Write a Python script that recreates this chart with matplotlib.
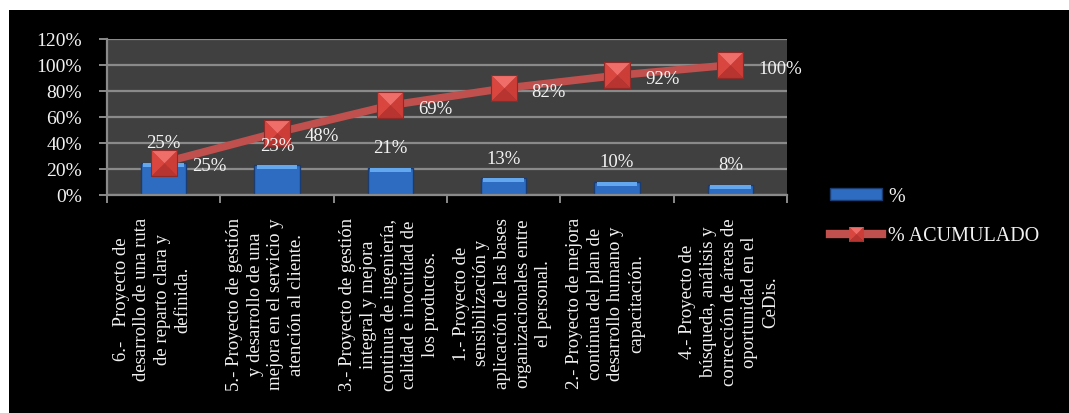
import matplotlib
matplotlib.use("Agg")
import matplotlib.pyplot as plt
import numpy as np
from matplotlib.path import Path
from matplotlib.patches import Rectangle, Patch
from matplotlib.lines import Line2D
from matplotlib.legend_handler import HandlerTuple
import matplotlib.transforms as mtransforms
from matplotlib.ticker import FuncFormatter, FixedLocator

# --- data ---
categories = [
    "6.-   Proyecto de\ndesarrollo de una ruta\nde reparto clara y\ndefinida.",
    "5.- Proyecto de gestión\ny desarrollo de una\nmejora en el servicio y\natención al cliente.",
    "3.- Proyecto de gestión\nintegral y mejora\ncontinua de ingeniería,\ncalidad e inocuidad de\nlos productos.",
    "1.- Proyecto de\nsensibilización y\naplicación de las bases\norganizacionales entre\nel personal.",
    "2.- Proyecto de mejora\ncontinua del plan de\ndesarrollo humano y\ncapacitación.",
    "4.- Proyecto de\nbúsqueda, análisis y\ncorrección de áreas de\noportunidad en el\nCeDis.",
]
pct = [25, 23, 21, 13, 10, 8]
pct_acum = [25, 48, 69, 82, 92, 100]
y_ticks = [0, 20, 40, 60, 80, 100, 120]
series_names = ["%", "% ACUMULADO"]

plt.rcParams["font.family"] = ["Liberation Serif", "DejaVu Serif"]
TXT = "#f2f2f2"
FS = 13.5

W, H = 1069, 414
fig = plt.figure(figsize=(W / 100, H / 100), dpi=100, facecolor="white")
fig.add_artist(Rectangle((9 / W, 0), 1 - 9 / W, (H - 11) / H,
                         transform=fig.transFigure, facecolor="black",
                         edgecolor="none", zorder=0))

ax = fig.add_axes([107 / W, (H - 196) / H, 680 / W, 156 / H])
ax.set_facecolor("#404040")
x = np.arange(len(pct))
ax.set_xlim(-0.5, len(pct) - 0.5)
ax.set_ylim(y_ticks[0], y_ticks[-1])

# gridlines and axes
grid_c = "#8a8a8a"
ax.set_yticks(y_ticks)
ax.yaxis.set_major_formatter(FuncFormatter(lambda v, _: f"{v:.0f}%"))
ax.grid(axis="y", color=grid_c, lw=1.6, zorder=1)
ax.set_axisbelow(True)
for s in ("top", "right"):
    ax.spines[s].set_visible(False)
for s in ("left", "bottom"):
    ax.spines[s].set_color(grid_c)
    ax.spines[s].set_linewidth(1.6)
ax.tick_params(axis="y", colors=grid_c, length=6, width=1.4, pad=12,
               labelcolor=TXT, labelsize=FS + 0.5)
ax.xaxis.set_major_locator(FixedLocator(x))
ax.xaxis.set_minor_locator(FixedLocator(np.arange(len(pct) + 1) - 0.5))
ax.tick_params(axis="x", which="major", length=0, labelbottom=False)
ax.tick_params(axis="x", which="minor", length=6, width=1.4, color=grid_c)

# bars with a light bevel along the top edge
bar_c, bar_edge = "#2d6cc0", "#1b3c70"
bw = 0.4
ax.bar(x, pct, width=bw, color=bar_c, edgecolor=bar_edge, lw=1.0, zorder=2)
bevel = 3.2
ax.bar(x, [bevel] * len(pct), bottom=np.array(pct) - bevel, width=bw * 0.9,
       color="#63a8ee", lw=0, zorder=2.1)

# cumulative line with pyramid-shaded square markers
line_c = "#c0504d"
ax.plot(x, pct_acum, color=line_c, lw=5.5, zorder=3, solid_capstyle="butt")
faces = [
    ([(0, 0), (-1, 1), (1, 1), (0, 0)], "#ef6e69"),    # top
    ([(0, 0), (-1, -1), (-1, 1), (0, 0)], "#d8463f"),  # left
    ([(0, 0), (1, 1), (1, -1), (0, 0)], "#cc3d37"),    # right
    ([(0, 0), (1, -1), (-1, -1), (0, 0)], "#b73430"),  # bottom
]
face_paths = [(Path(v, closed=True), c) for v, c in faces]
MS = 19
for p, c in face_paths:
    ax.plot(x, pct_acum, ls="none", marker=p, ms=MS, mfc=c, mec=c, mew=0.3, zorder=4)
ax.plot(x, pct_acum, ls="none", marker="s", ms=MS, mfc="none",
        mec="#8e2a27", mew=0.8, zorder=4.1)

# data labels
for xi, v in zip(x, pct):
    ax.annotate(f"{v}%", (xi, v), xytext=(0, 20), textcoords="offset pixels",
                ha="center", va="center", color=TXT, fontsize=FS, zorder=5)
for xi, v in zip(x, pct_acum):
    ax.annotate(f"{v}%", (xi, v), xytext=(28, -3), textcoords="offset pixels",
                ha="left", va="center", color=TXT, fontsize=FS, zorder=5)

# rotated category labels below the axis
base = mtransforms.blended_transform_factory(ax.transData, ax.transAxes)
lab_tr = mtransforms.offset_copy(base, fig=fig, x=-51, y=-22, units="dots")
for xi, lab in zip(x, categories):
    ax.text(xi, 0, lab, transform=lab_tr, rotation=90, ha="left", va="top",
            multialignment="center", color=TXT, fontsize=FS, linespacing=1.28)

# legend
bar_h = Patch(facecolor=bar_c, edgecolor=bar_edge)
line_h = Line2D([], [], color=line_c, lw=6)
mk_h = [Line2D([], [], ls="none", marker=p, ms=10.5, mfc=c, mec=c, mew=0.3)
        for p, c in face_paths]
leg = fig.legend([bar_h, tuple([line_h] + mk_h)], series_names,
                 handler_map={tuple: HandlerTuple(ndivide=1, pad=0)},
                 loc="upper left", bbox_to_anchor=(822 / W, 1 - 180 / H),
                 frameon=False, fontsize=FS + 1, labelcolor=TXT,
                 handlelength=2.6, handleheight=0.5, labelspacing=1.0,
                 handletextpad=0.3, borderaxespad=0)

fig.savefig("out.png", dpi=100, facecolor=fig.get_facecolor())
